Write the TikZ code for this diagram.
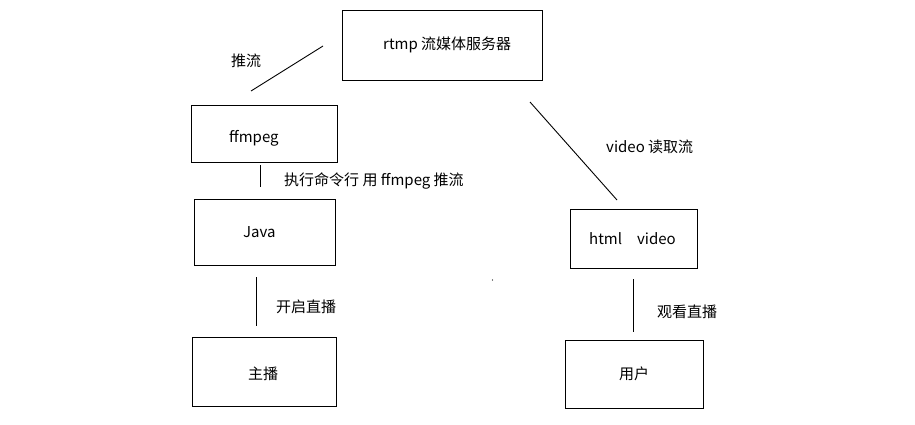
\documentclass[tikz,border=0pt]{standalone}
\usepackage{fontspec}
\setmainfont{Noto Sans CJK SC}
\begin{document}
\begin{tikzpicture}[x=1pt,y=-1pt,
  box/.style={draw=black,line width=1pt,rectangle,inner sep=0pt},
  lbl/.style={anchor=west,inner sep=0pt,font=\fontsize{15}{16}\selectfont},
  conn/.style={line width=0.9pt}]
\useasboundingbox (0,0) rectangle (915,424);
% boxes
\node[box,minimum width=200,minimum height=70] (rtmp) at (442,45) {};
\node[box,minimum width=146,minimum height=57] (ff) at (264,133.5) {};
\node[box,minimum width=141,minimum height=66] (java) at (264.5,232) {};
\node[box,minimum width=144,minimum height=69] (zb) at (264,371.5) {};
\node[box,minimum width=127,minimum height=59] (html) at (633.5,238.5) {};
\node[box,minimum width=138,minimum height=68] (user) at (634,374) {};
% box texts
\node[lbl] (t1) at (383,45) {rtmp 流媒体服务器};
\node[lbl] (t2) at (229,138) {ffmpeg};
\node[lbl] (t3) at (243,232) {Java};
\node[lbl] (t4) at (248,374) {主播};
\node[lbl] (t5) at (589,239) {html\hspace{15pt}video};
\node[lbl] (t6) at (619,374) {用户};
% connectors
\coordinate (a1) at (323,46); \coordinate (a2) at (251,91);
\coordinate (b1) at (260,165); \coordinate (b2) at (260,187);
\coordinate (c1) at (256,277); \coordinate (c2) at (256,326);
\coordinate (d1) at (530,102); \coordinate (d2) at (617,200);
\coordinate (e1) at (633,279); \coordinate (e2) at (633,332);
\draw[conn] (a1) -- (a2);
\draw[conn] (b1) -- (b2);
\draw[conn] (c1) -- (c2);
\draw[conn] (d1) -- (d2);
\draw[conn] (e1) -- (e2);
% labels
\node[lbl] (l1) at (231,61) {推流};
\node[lbl] (l2) at (284,181) {执行命令行 用 ffmpeg 推流};
\node[lbl] (l3) at (276,307) {开启直播};
\node[lbl] (l4) at (606,147) {video 读取流};
\node[lbl] (l5) at (657,312) {观看直播};
% stray dot
\fill (492.5,280) circle (0.6);
\end{tikzpicture}
\end{document}
